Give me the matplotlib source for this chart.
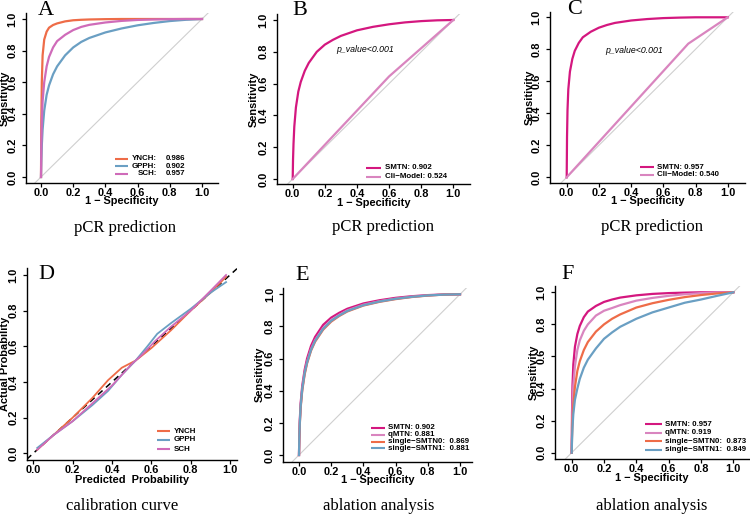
import matplotlib
matplotlib.use("Agg")
import matplotlib.pyplot as plt

# common false-positive-rate grid used to read the smooth ROC curves
fpr_grid = [0, 0.002, 0.005, 0.01, 0.02, 0.035, 0.05, 0.075, 0.1, 0.15,
            0.2, 0.25, 0.3, 0.4, 0.5, 0.6, 0.7, 0.8, 0.9, 1.0]

# panel A - pCR prediction, three centres
a_names = ["YNCH:", "GPPH:", "SCH:"]
a_auc = ["0.986", "0.902", "0.957"]
a_ynch = [0, 0.35, 0.6, 0.77, 0.87, 0.92, 0.945, 0.962, 0.972, 0.985,
          0.992, 0.995, 0.997, 0.999, 1, 1, 1, 1, 1, 1]
a_gpph = [0, 0.1, 0.2, 0.3, 0.42, 0.52, 0.58, 0.65, 0.7, 0.77,
          0.82, 0.855, 0.88, 0.915, 0.94, 0.96, 0.975, 0.987, 0.995, 1]
a_sch = [0, 0.2, 0.35, 0.48, 0.6, 0.7, 0.76, 0.82, 0.86, 0.9,
         0.93, 0.95, 0.963, 0.978, 0.988, 0.994, 0.997, 0.999, 1, 1]

# panel B - SMTN vs clinical model
b_labels = ["SMTN: 0.902", "Cli\u2212Model: 0.524"]
b_smtn = [0, 0.12, 0.22, 0.33, 0.45, 0.55, 0.61, 0.68, 0.73, 0.8,
          0.845, 0.875, 0.9, 0.935, 0.957, 0.973, 0.985, 0.993, 0.998, 1]
b_cli_fpr = [0, 0.6, 1.0]
b_cli_tpr = [0, 0.645, 1.0]

# panel C
c_labels = ["SMTN: 0.957", "Cli\u2212Model: 0.540"]
c_smtn = [0, 0.25, 0.42, 0.55, 0.66, 0.74, 0.79, 0.84, 0.875, 0.91,
          0.935, 0.952, 0.965, 0.98, 0.989, 0.995, 0.998, 1, 1, 1]
c_cli_fpr = [0, 0.755, 1.0]
c_cli_tpr = [0, 0.835, 1.0]

# panel D - calibration curves
d_names = ["YNCH", "GPPH", "SCH"]
d_ynch_x = [0.02, 0.1, 0.2, 0.3, 0.38, 0.45, 0.52, 0.6, 0.7, 0.8, 0.9, 0.98]
d_ynch_y = [0.02, 0.1, 0.2, 0.31, 0.41, 0.48, 0.52, 0.59, 0.69, 0.8, 0.9, 0.99]
d_gpph_x = [0.02, 0.1, 0.2, 0.3, 0.38, 0.45, 0.52, 0.58, 0.63, 0.7, 0.8, 0.9, 0.98]
d_gpph_y = [0.03, 0.1, 0.18, 0.27, 0.35, 0.44, 0.52, 0.6, 0.67, 0.73, 0.81, 0.9, 0.96]
d_sch_x = [0.02, 0.1, 0.2, 0.3, 0.4, 0.5, 0.55, 0.62, 0.7, 0.8, 0.9, 0.98]
d_sch_y = [0.02, 0.1, 0.18, 0.28, 0.38, 0.5, 0.55, 0.63, 0.71, 0.8, 0.91, 1.0]

# panel E - ablation (internal)
e_labels = ["SMTN: 0.902", "qMTN: 0.881", "single\u2212SMTN0:  0.869", "single\u2212SMTN1:  0.881"]
e_smtn = [0, 0.12, 0.22, 0.32, 0.43, 0.53, 0.6, 0.68, 0.735, 0.81,
          0.855, 0.885, 0.91, 0.943, 0.963, 0.978, 0.988, 0.995, 0.999, 1]
e_qmtn = [0, 0.11, 0.2, 0.3, 0.41, 0.51, 0.58, 0.66, 0.715, 0.79,
          0.84, 0.872, 0.9, 0.935, 0.957, 0.973, 0.985, 0.993, 0.998, 1]
e_s0 = [0, 0.1, 0.19, 0.29, 0.4, 0.5, 0.57, 0.65, 0.705, 0.78,
        0.83, 0.865, 0.893, 0.93, 0.953, 0.97, 0.983, 0.992, 0.998, 1]
e_s1 = [0, 0.11, 0.2, 0.3, 0.41, 0.51, 0.575, 0.655, 0.71, 0.785,
        0.835, 0.868, 0.896, 0.932, 0.955, 0.972, 0.984, 0.993, 0.998, 1]

# panel F - ablation (external)
f_labels = ["SMTN: 0.957", "qMTN: 0.919", "single\u2212SMTN0:  0.873", "single\u2212SMTN1:  0.849"]
f_smtn = [0, 0.25, 0.42, 0.55, 0.66, 0.74, 0.79, 0.845, 0.88, 0.915,
          0.94, 0.955, 0.967, 0.981, 0.99, 0.995, 0.998, 1, 1, 1]
f_qmtn = [0, 0.17, 0.3, 0.42, 0.54, 0.64, 0.7, 0.76, 0.8, 0.855,
          0.885, 0.902, 0.92, 0.948, 0.965, 0.978, 0.988, 0.995, 0.999, 1]
f_s0 = [0, 0.1, 0.2, 0.3, 0.41, 0.51, 0.57, 0.64, 0.69, 0.755,
        0.8, 0.835, 0.862, 0.905, 0.932, 0.953, 0.97, 0.983, 0.993, 1]
f_s1 = [0, 0.08, 0.16, 0.24, 0.33, 0.4, 0.46, 0.53, 0.58, 0.65,
        0.71, 0.75, 0.785, 0.835, 0.875, 0.905, 0.935, 0.955, 0.978, 1]

ticks = [0.0, 0.2, 0.4, 0.6, 0.8, 1.0]
tick_labels = ["0.0", "0.2", "0.4", "0.6", "0.8", "1.0"]

ORANGE = "#EE6C48"
BLUE = "#6A9FC3"
ORCHID = "#CF6BB9"
MAGENTA = "#D4177F"
LPINK = "#D985BF"

SANS = "Liberation Sans"
SERIF = "Liberation Serif"
LEG_FS = 5.7

W, H = 750, 517
fig = plt.figure(figsize=(7.5, 5.17), dpi=100)


def make_axes(left, right, top, bottom, x0, x1, y0, y1, dx, dy, xlabel, ylabel):
    # all numbers here are pixel positions measured on the reference
    ax = fig.add_axes([left / W, 1 - bottom / H, (right - left) / W, (bottom - top) / H])
    sx = x1 - x0
    sy = y0 - y1
    ax.set_xlim((left - x0) / sx, (right - x0) / sx)
    ax.set_ylim((y0 - bottom) / sy, (y0 - top) / sy)
    for s in ["top", "right"]:
        ax.spines[s].set_visible(False)
    for s in ["left", "bottom"]:
        ax.spines[s].set_linewidth(1.0)
    ax.set_xticks(ticks)
    ax.set_yticks(ticks)
    ax.set_xticklabels(tick_labels, fontsize=7.9, fontweight="bold", family=SANS)
    ax.set_yticklabels(tick_labels, fontsize=7.9, fontweight="bold", family=SANS,
                       rotation=90, va="center")
    ax.tick_params(axis="both", direction="out", length=3.1, width=0.9)
    ax.tick_params(axis="x", pad=0.6)
    ax.tick_params(axis="y", pad=3.0)
    ax.set_xlabel(xlabel, fontsize=7.9, fontweight="bold", family=SANS)
    ax.set_ylabel(ylabel, fontsize=7.9, fontweight="bold", family=SANS)
    ax.xaxis.label.set_va("center")
    ax.yaxis.label.set_va("center")
    ax.xaxis.set_label_coords(0.5, -dy / (bottom - top))
    ax.yaxis.set_label_coords(-dx / (right - left), 0.5)
    return ax


def diag(ax):
    ax.axline((0, 0), (1, 1), color="#CFCFCF", lw=0.8, zorder=1)


def legend(ax, labels, colors, x_line, x_text, y_rows, names_right=None, values=None):
    for i, c in enumerate(colors):
        y = y_rows[i]
        ax.plot(x_line, [y, y], color=c, lw=1.5, solid_capstyle="butt", clip_on=False)
        if names_right is None:
            ax.text(x_text, y, labels[i], fontsize=LEG_FS, fontweight="bold", family=SANS,
                    ha="left", va="center")
        else:
            ax.text(names_right, y, labels[i], fontsize=LEG_FS, fontweight="bold", family=SANS,
                    ha="right", va="center")
            ax.text(x_text, y, values[i], fontsize=LEG_FS, fontweight="bold", family=SANS,
                    ha="left", va="center")


def letter(px, py, s):
    fig.text(px / W, 1 - py / H, s, fontsize=16, family=SERIF, ha="left", va="baseline")


def title(px, py, s):
    fig.text(px / W, 1 - py / H, s, fontsize=12, family=SERIF, ha="center", va="baseline")


SPEC = "1 \u2212 Specificity"
LW = 1.6

# ---- A ----
ax = make_axes(26, 218, 13, 183, 41, 202, 177, 19, 21, 18.5, SPEC, "Sensitivity")
diag(ax)
ax.plot(fpr_grid, a_ynch, color=ORANGE, lw=LW)
ax.plot(fpr_grid, a_gpph, color=BLUE, lw=LW)
ax.plot(fpr_grid, a_sch, color=ORCHID, lw=LW)
legend(ax, a_names, [ORANGE, BLUE, ORCHID], [0.46, 0.54], 0.775, [0.116, 0.067, 0.021],
       names_right=0.72, values=a_auc)

# ---- B ----
ax = make_axes(276.7, 470, 14, 184, 292.7, 453.3, 179, 20, 22.5, 18.5, SPEC, "Sensitivity")
diag(ax)
ax.plot(fpr_grid, b_smtn, color=MAGENTA, lw=LW)
ax.plot(b_cli_fpr, b_cli_tpr, color=LPINK, lw=LW)
ax.text(0.45, 0.815, "p_value<0.001", fontsize=6.3, style="italic", family=SANS,
        ha="center", va="center")
legend(ax, b_labels, [MAGENTA, LPINK], [0.456, 0.548], 0.575, [0.071, 0.015])

# ---- C ----
ax = make_axes(550, 745, 11.7, 182.7, 566.7, 727.7, 177.3, 17.3, 20.5, 18.8, SPEC, "Sensitivity")
diag(ax)
ax.plot(fpr_grid, c_smtn, color=MAGENTA, lw=LW)
ax.plot(c_cli_fpr, c_cli_tpr, color=LPINK, lw=LW)
ax.text(0.42, 0.79, "p_value<0.001", fontsize=6.3, style="italic", family=SANS,
        ha="center", va="center")
legend(ax, c_labels, [MAGENTA, LPINK], [0.455, 0.542], 0.56, [0.0625, 0.017])

# ---- D ----
ax = make_axes(26.7, 237, 268, 460, 33.3, 230, 453.3, 275, 22, 20,
               "Predicted  Probability", "Actual Probability")
ax.axline((0, 0), (1, 1), color="black", lw=1.1, ls=(0, (4, 3)), zorder=1)
ax.plot(d_ynch_x, d_ynch_y, color=ORANGE, lw=1.3)
ax.plot(d_gpph_x, d_gpph_y, color=BLUE, lw=1.3)
ax.plot(d_sch_x, d_sch_y, color=ORCHID, lw=1.3)
legend(ax, d_names, [ORANGE, BLUE, ORCHID], [0.627, 0.695], 0.715, [0.125, 0.075, 0.022])

# ---- E ----
ax = make_axes(283.3, 471.7, 287.7, 461.7, 299, 460, 455, 294.3, 23.5, 18.5, SPEC, "Sensitivity")
diag(ax)
ax.plot(fpr_grid, e_smtn, color=MAGENTA, lw=LW)
ax.plot(fpr_grid, e_qmtn, color=LPINK, lw=LW)
ax.plot(fpr_grid, e_s0, color=ORANGE, lw=LW)
ax.plot(fpr_grid, e_s1, color=BLUE, lw=LW)
legend(ax, e_labels, [MAGENTA, LPINK, ORANGE, BLUE], [0.45, 0.534], 0.555,
       [0.17, 0.127, 0.084, 0.041])

# ---- F ----
ax = make_axes(555, 749, 286, 459.3, 571.7, 733.3, 452.7, 292.3, 21, 18.5, SPEC, "Sensitivity")
diag(ax)
ax.plot(fpr_grid, f_smtn, color=MAGENTA, lw=LW)
ax.plot(fpr_grid, f_qmtn, color=LPINK, lw=LW)
ax.plot(fpr_grid, f_s0, color=ORANGE, lw=LW)
ax.plot(fpr_grid, f_s1, color=BLUE, lw=LW)
legend(ax, f_labels, [MAGENTA, LPINK, ORANGE, BLUE], [0.454, 0.557], 0.575,
       [0.177, 0.124, 0.07, 0.017])

# panel letters and captions
letter(37.7, 15, "A")
letter(292.7, 15, "B")
letter(566.7, 14, "C")
letter(38.3, 279, "D")
letter(295, 280, "E")
letter(561.7, 279, "F")

title(125, 232, "pCR prediction")
title(383, 231, "pCR prediction")
title(652, 231, "pCR prediction")
title(122, 510, "calibration curve")
title(379, 510, "ablation analysis")
title(652, 510, "ablation analysis")

fig.savefig("out.png", dpi=100)
